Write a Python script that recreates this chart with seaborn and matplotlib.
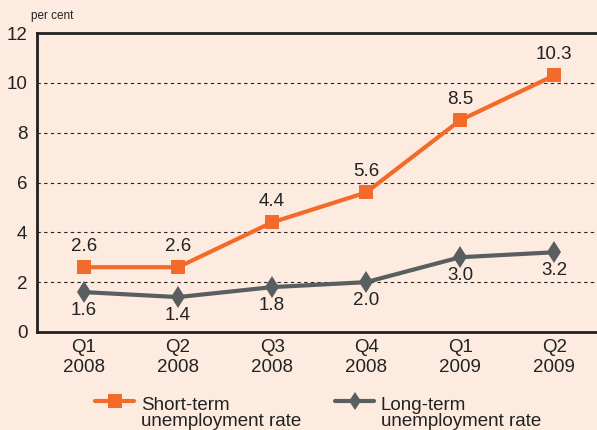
import numpy as np
import pandas as pd
import matplotlib
matplotlib.use("Agg")
import matplotlib.pyplot as plt
import seaborn as sns

quarters = ["Q1\n2008", "Q2\n2008", "Q3\n2008", "Q4\n2008", "Q1\n2009", "Q2\n2009"]
short_term = [2.6, 2.6, 4.4, 5.6, 8.5, 10.3]
long_term = [1.6, 1.4, 1.8, 2.0, 3.0, 3.2]
y_ticks = [0, 2, 4, 6, 8, 10, 12]

bg = "#fdebdf"
orange = "#f26b2a"
grey = "#595e60"
ink = "#222222"

sns.set_theme(style="white")
plt.rcParams["font.family"] = ["Liberation Sans", "DejaVu Sans"]

df = pd.DataFrame({
    "x": list(range(len(quarters))) * 2,
    "rate": short_term + long_term,
    "series": ["Short-term\nunemployment rate"] * 6 + ["Long-term\nunemployment rate"] * 6,
})

fig = plt.figure(figsize=(5.97, 4.30), dpi=100, facecolor=bg)
ax = fig.add_axes([0.062, 0.228, 0.945, 0.695])
ax.set_facecolor(bg)

sns.lineplot(data=df, x="x", y="rate", hue="series", style="series",
             palette=[orange, grey], markers=["s", "d"], dashes=False,
             linewidth=3, markersize=9.5, markeredgewidth=0, ax=ax)
ax.lines[1].set_markersize(11.5)

for i, v in enumerate(short_term):
    ax.text(i, v + 0.5, f"{v:.1f}", ha="center", va="bottom", fontsize=13.5, color=ink)
for i, v in enumerate(long_term):
    ax.text(i, v - 0.4, f"{v:.1f}", ha="center", va="top", fontsize=13.5, color=ink)

ax.set_xlim(-0.5, 5.5)
ax.set_ylim(0, 12)
ax.set_yticks(y_ticks)
ax.set_yticklabels([str(t) for t in y_ticks], fontsize=13.5)
ax.set_xticks(np.arange(len(quarters)))
ax.set_xticklabels(quarters, fontsize=13.5, color=ink)
ax.set_xticks(np.arange(-0.5, 5.5, 1), minor=True)
ax.tick_params(axis="x", which="major", length=0, pad=5)
ax.tick_params(axis="x", which="minor", direction="inout", length=8, width=1.5, color=ink)
ax.tick_params(axis="y", direction="out", length=5, width=1.5, color=ink, pad=2, labelcolor=ink)
ax.set_xlabel("")
ax.set_ylabel("")

for y in y_ticks[1:-1]:
    ax.axhline(y, color=ink, linestyle=(0, (3, 3)), linewidth=0.8, zorder=0)

for side in ["left", "bottom", "top"]:
    ax.spines[side].set_color(ink)
    ax.spines[side].set_linewidth(2)
ax.spines["right"].set_visible(False)

fig.text(0.052, 0.955, "per cent", fontsize=8.5, color=ink)

leg = ax.legend(loc="upper center", bbox_to_anchor=(0.498, -0.16), ncol=2, frameon=False,
                fontsize=13.5, handlelength=2.1, columnspacing=1.8, handletextpad=0.35)
for t in leg.get_texts():
    t.set_color(ink)
    t.set_linespacing(0.95)
# handles sit level with the first text line
for h in leg.legend_handles:
    h.set_ydata(np.asarray(h.get_ydata()) + 8.5)

fig.savefig("out.png", dpi=100, facecolor=bg)
